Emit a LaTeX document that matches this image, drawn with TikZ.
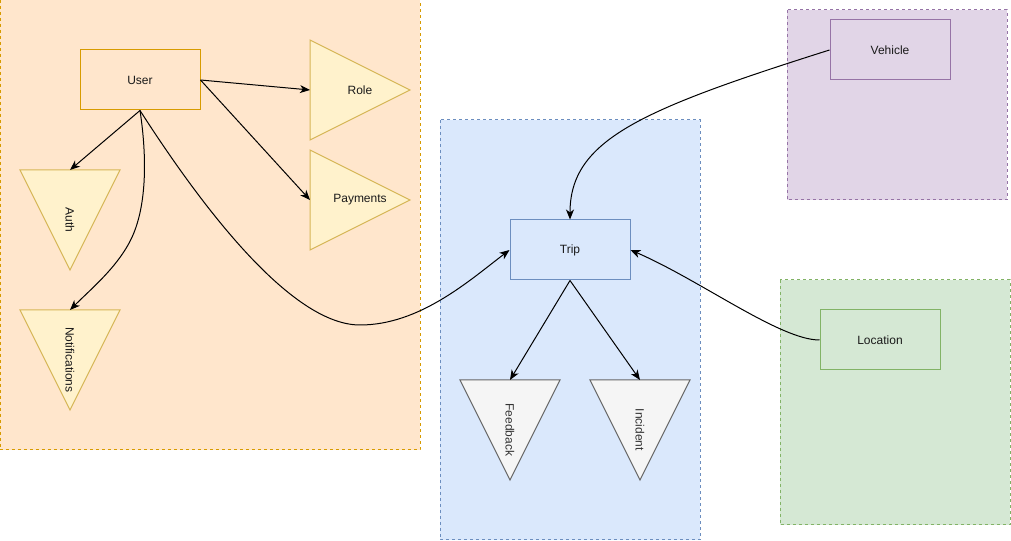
\documentclass[tikz,border=0pt]{standalone}
\usepackage{fontspec}
\setmainfont{Liberation Sans}
\usetikzlibrary{arrows.meta}
\definecolor{orgfill}{HTML}{FFE6CC}\definecolor{orgline}{HTML}{D79B00}
\definecolor{ylwfill}{HTML}{FFF2CC}\definecolor{ylwline}{HTML}{D6B656}
\definecolor{bluefill}{HTML}{DAE8FC}\definecolor{blueline}{HTML}{6C8EBF}
\definecolor{greyfill}{HTML}{F5F5F5}\definecolor{greyline}{HTML}{666666}
\definecolor{greytext}{HTML}{333333}
\definecolor{purpfill}{HTML}{E1D5E7}\definecolor{purpline}{HTML}{9673A6}
\definecolor{grnfill}{HTML}{D5E8D4}\definecolor{grnline}{HTML}{82B366}
\definecolor{txt}{HTML}{1A1A1A}
\tikzset{
  region/.style={line width=0.75pt, dash pattern=on 2.25pt off 2.25pt},
  entity/.style={draw, line width=0.75pt, minimum width=90pt, minimum height=45pt,
    inner sep=0pt, font=\fontsize{9}{11}\selectfont, text=txt},
  tri/.style={line width=0.75pt},
  lbl/.style={inner sep=0pt, font=\fontsize{9}{11}\selectfont, text=txt},
  link/.style={line width=0.75pt, -{Stealth[length=7.5pt,width=6pt,inset=2.2pt]}},
}
\begin{document}
\begin{tikzpicture}[x=0.75pt,y=-0.75pt]
\useasboundingbox (0,0) rectangle (1011,541);

% group backgrounds
\filldraw[region, fill=orgfill, draw=orgline] (0,0) rectangle (420,450);
\filldraw[region, fill=bluefill, draw=blueline] (440,120) rectangle (700,540);
\filldraw[region, fill=purpfill, draw=purpline] (787,10) rectangle (1007,200);
\filldraw[region, fill=grnfill, draw=grnline] (780,280) rectangle (1010,525);

% rectangular entities
\node[entity, fill=orgfill, draw=orgline] (user) at (140,80) {User};
\node[entity, fill=bluefill, draw=blueline] (trip) at (570,250) {Trip};
\node[entity, fill=purpfill, draw=purpline] (vehicle) at (890,50) {Vehicle};
\node[entity, fill=grnfill, draw=grnline] (location) at (880,340) {Location};

% triangular entities
\filldraw[tri, fill=ylwfill, draw=ylwline] (310,40) -- (410,90) -- (310,140) -- cycle;
\coordinate (role-in) at (310,90);
\node[lbl] (role) at (360,90) {Role};

\filldraw[tri, fill=ylwfill, draw=ylwline] (310,150) -- (410,200) -- (310,250) -- cycle;
\coordinate (pay-in) at (310,200);
\node[lbl] (payments) at (360,200) {Payments};

\filldraw[tri, fill=ylwfill, draw=ylwline] (20,170) -- (120,170) -- (70,270) -- cycle;
\coordinate (auth-in) at (70,170);
\node[lbl, rotate=-90] (auth) at (70,220) {Auth};

\filldraw[tri, fill=ylwfill, draw=ylwline] (20,310) -- (120,310) -- (70,410) -- cycle;
\coordinate (notif-in) at (70,310);
\node[lbl, rotate=-90] (notif) at (70,360) {Notifications};

\filldraw[tri, fill=greyfill, draw=greyline] (460,380) -- (560,380) -- (510,480) -- cycle;
\coordinate (fb-in) at (510,380);
\node[lbl, rotate=-90, text=greytext] (feedback) at (510,430) {Feedback};

\filldraw[tri, fill=greyfill, draw=greyline] (590,380) -- (690,380) -- (640,480) -- cycle;
\coordinate (inc-in) at (640,380);
\node[lbl, rotate=-90, text=greytext] (incident) at (640,430) {Incident};

% connectors
\draw[link] (user.east) -- (role-in);
\draw[link] (user.east) -- (pay-in);
\draw[link] (user.south) -- (auth-in);
\draw[link] (user.south) .. controls (146,150) and (148,200) .. (133,235)
  .. controls (120,265) and (92,288) .. (notif-in);
\draw[link] (user.south) .. controls (220,235) and (300,325) .. (360,325)
  .. controls (420,325) and (470,280) .. (trip.west);
\draw[link] (vehicle.west) .. controls (640,110) and (570,140) .. (trip.north);
\draw[link] (location.west) .. controls (780,340) and (700,280) .. (trip.east);
\draw[link] (trip.south) -- (fb-in);
\draw[link] (trip.south) -- (inc-in);
\end{tikzpicture}
\end{document}
